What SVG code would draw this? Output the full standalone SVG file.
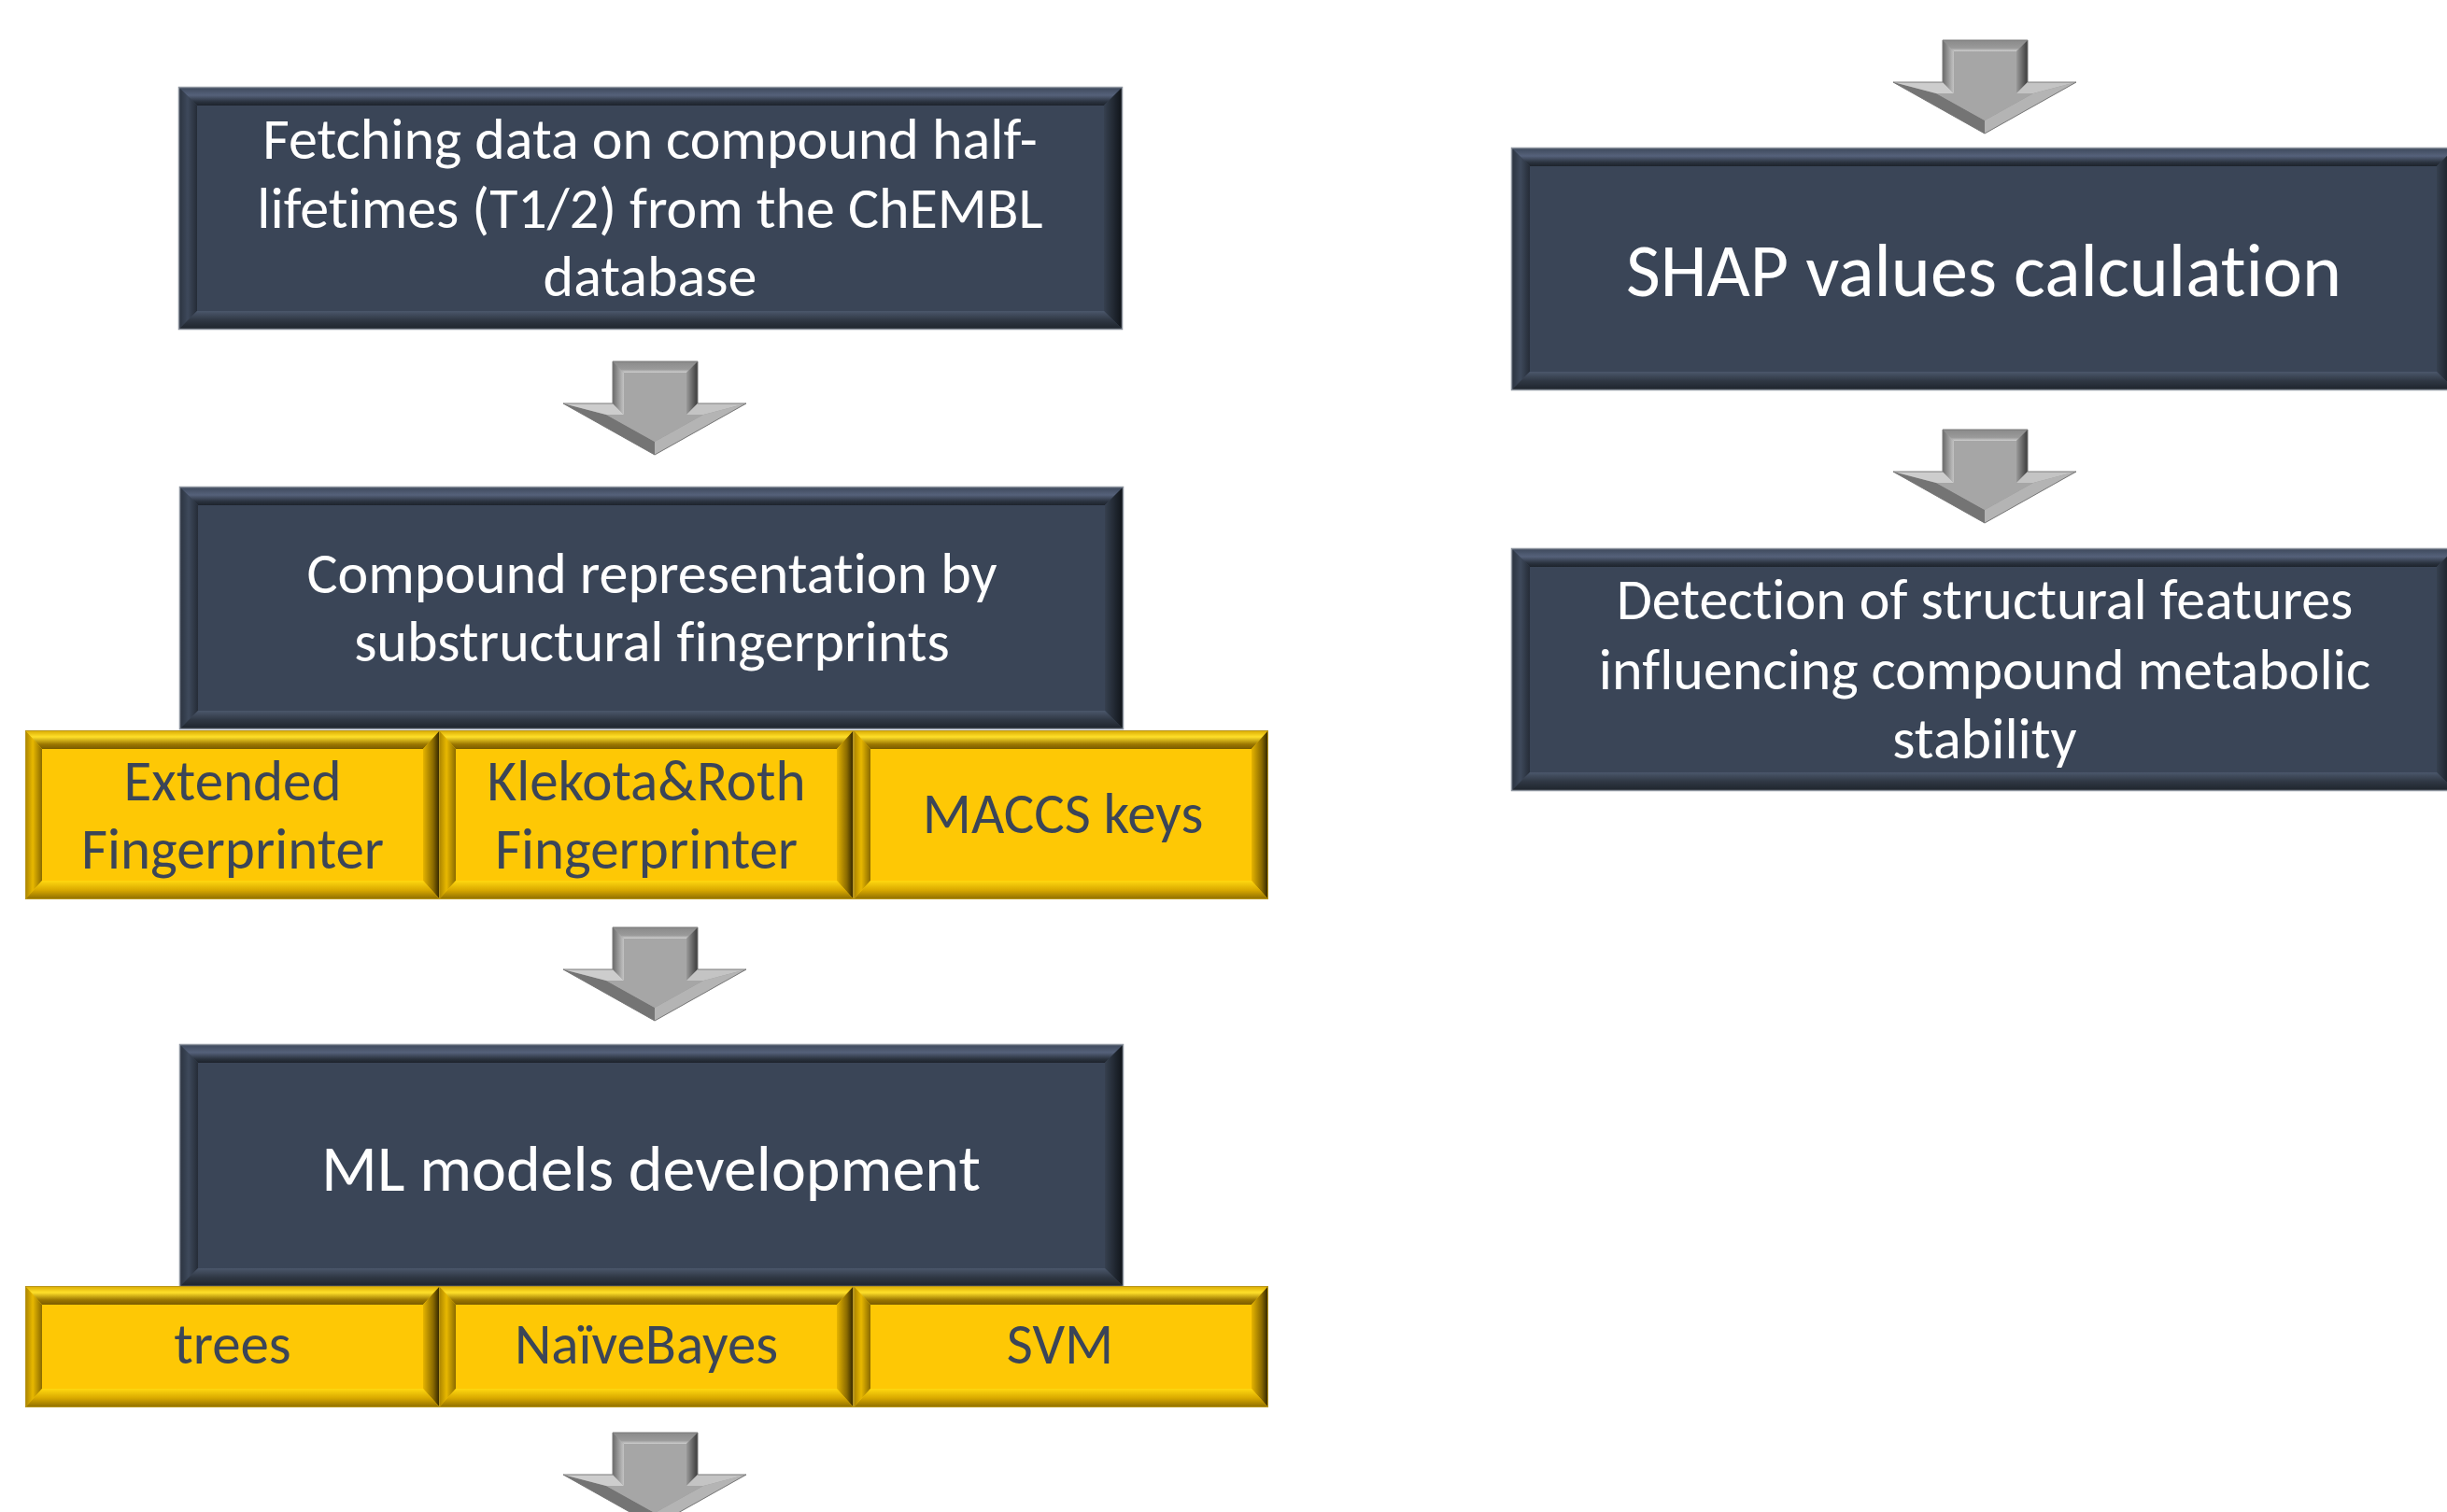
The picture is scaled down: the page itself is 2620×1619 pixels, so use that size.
<svg xmlns="http://www.w3.org/2000/svg" xmlns:xlink="http://www.w3.org/1999/xlink" width="2620" height="1619" viewBox="0 0 2620 1619">
<style>
.wt{fill:#ffffff;font-family:Carlito,Calibri,Lato,"Open Sans",sans-serif;text-anchor:middle;font-size:62px;font-variant-ligatures:none}
.yt{fill:#3b4558;font-family:Carlito,Calibri,Lato,"Open Sans",sans-serif;text-anchor:middle;font-size:61px;font-variant-ligatures:none}
.big{font-size:70px}
.huge{font-size:80px}
</style>
<defs>
<linearGradient id="dTop" x1="0" y1="0" x2="0" y2="1"><stop offset="0" stop-color="#3c4759"/><stop offset="0.45" stop-color="#55617a"/><stop offset="0.8" stop-color="#2a323e"/><stop offset="1" stop-color="#1d232c"/></linearGradient>
<linearGradient id="dLeft" x1="0" y1="0" x2="1" y2="0"><stop offset="0" stop-color="#2a323e"/><stop offset="0.5" stop-color="#3e495b"/><stop offset="1" stop-color="#252c37"/></linearGradient>
<linearGradient id="dRight" x1="0" y1="0" x2="1" y2="0"><stop offset="0" stop-color="#36404f"/><stop offset="1" stop-color="#0e1217"/></linearGradient>
<linearGradient id="dBot" x1="0" y1="0" x2="0" y2="1"><stop offset="0" stop-color="#4b576b"/><stop offset="0.5" stop-color="#2f3743"/><stop offset="1" stop-color="#1d232b"/></linearGradient>
<linearGradient id="yTop" x1="0" y1="0" x2="0" y2="1"><stop offset="0" stop-color="#d8a800"/><stop offset="0.35" stop-color="#ffe02a"/><stop offset="0.75" stop-color="#9a7600"/><stop offset="1" stop-color="#7a5c00"/></linearGradient>
<linearGradient id="yLeft" x1="0" y1="0" x2="1" y2="0"><stop offset="0" stop-color="#a88200"/><stop offset="0.45" stop-color="#e8b800"/><stop offset="1" stop-color="#8a6a00"/></linearGradient>
<linearGradient id="yRight" x1="0" y1="0" x2="1" y2="0"><stop offset="0" stop-color="#e6b400"/><stop offset="0.6" stop-color="#8a6a00"/><stop offset="1" stop-color="#2a2000"/></linearGradient>
<linearGradient id="yBot" x1="0" y1="0" x2="0" y2="1"><stop offset="0" stop-color="#ffd810"/><stop offset="0.5" stop-color="#d9a900"/><stop offset="1" stop-color="#8c6c00"/></linearGradient>
<g id="darkBox">
<rect x="0" y="0" width="1011" height="260" fill="#3a4557"/>
<polygon points="0,0 1011,0 991,20 20,20" fill="url(#dTop)"/>
<polygon points="0,0 20,20 20,240 0,260" fill="url(#dLeft)"/>
<polygon points="1011,0 1011,260 991,240 991,20" fill="url(#dRight)"/>
<polygon points="0,260 20,240 991,240 1011,260" fill="url(#dBot)"/>
<rect x="0.5" y="0.5" width="1010" height="259" fill="none" stroke="#8d949e" stroke-width="1.5"/>
</g>
<g id="yCellTall">
<rect x="0" y="0" width="444" height="181" fill="#fec805"/>
<polygon points="0,0 444,0 426,20 18,20" fill="url(#yTop)"/>
<polygon points="0,0 18,20 18,161 0,181" fill="url(#yLeft)"/>
<polygon points="444,0 444,181 426,161 426,20" fill="url(#yRight)"/>
<polygon points="0,181 18,161 426,161 444,181" fill="url(#yBot)"/>
<rect x="0.5" y="0.5" width="443" height="180" fill="none" stroke="#b8961e" stroke-width="1"/>
</g>
<g id="yCellShort">
<rect x="0" y="0" width="444" height="130" fill="#fec805"/>
<polygon points="0,0 444,0 426,20 18,20" fill="url(#yTop)"/>
<polygon points="0,0 18,20 18,110 0,130" fill="url(#yLeft)"/>
<polygon points="444,0 444,130 426,110 426,20" fill="url(#yRight)"/>
<polygon points="0,130 18,110 426,110 444,130" fill="url(#yBot)"/>
<rect x="0.5" y="0.5" width="443" height="129" fill="none" stroke="#b8961e" stroke-width="1"/>
</g>
<linearGradient id="aLeft" x1="0" y1="0" x2="1" y2="0"><stop offset="0" stop-color="#6a6a6a"/><stop offset="1" stop-color="#c4c4c4"/></linearGradient>
<linearGradient id="aRight" x1="0" y1="0" x2="1" y2="0"><stop offset="0" stop-color="#9a9a9a"/><stop offset="1" stop-color="#3a3a3a"/></linearGradient>
<linearGradient id="aTop" x1="0" y1="0" x2="0" y2="1"><stop offset="0" stop-color="#8a8a8a"/><stop offset="0.7" stop-color="#9a9a9a"/><stop offset="1" stop-color="#cfcfcf"/></linearGradient>
<g id="arrow">
<polygon points="-45,0 46,0 46,45 98,45 0,100 -98,45 -45,45" fill="#9a9a9a"/>
<polygon points="-45,0 46,0 34,12 -33,12" fill="url(#aTop)"/>
<polygon points="46,0 46,45 34,57 34,12" fill="url(#aRight)"/>
<polygon points="46,45 98,45 52,57 34,57" fill="#c4c4c4"/>
<polygon points="98,45 0,100 0,86 52,57" fill="#b4b4b4"/>
<polygon points="0,100 -98,45 -52,57 0,86" fill="#747474"/>
<polygon points="-98,45 -45,45 -33,57 -52,57" fill="#cdcdcd"/>
<polygon points="-45,45 -45,0 -33,12 -33,57" fill="url(#aLeft)"/>
<polygon points="-33,12 34,12 34,57 52,57 0,86 -52,57 -33,57" fill="#a6a6a6"/>
<polygon points="-45,0 46,0 46,45 98,45 0,100 -98,45 -45,45" fill="none" stroke="#7a7a7a" stroke-width="1"/>
</g>
</defs>
<rect x="0" y="0" width="2620" height="1619" fill="#ffffff"/>

<g id="connectors">
<use xlink:href="#arrow" href="#arrow" x="701" y="387"/>
<use xlink:href="#arrow" href="#arrow" x="701" y="993"/>
<use xlink:href="#arrow" href="#arrow" x="701" y="1534"/>
<use xlink:href="#arrow" href="#arrow" x="2125" y="43"/>
<use xlink:href="#arrow" href="#arrow" x="2125" y="460"/>
</g>

<g id="node-fetch">
<use xlink:href="#darkBox" href="#darkBox" x="191" y="93"/>
<text class="wt" x="696" y="170">Fetching data on compound half-</text>
<text class="wt" x="696" y="244">lifetimes (T1/2) from the ChEMBL</text>
<text class="wt" x="696" y="317">database</text>
</g>

<g id="node-representation">
<use xlink:href="#darkBox" href="#darkBox" x="192" y="521"/>
<text class="wt" x="698" y="635">Compound representation by</text>
<text class="wt" x="698" y="708">substructural fingerprints</text>
</g>

<g id="node-extended">
<use xlink:href="#yCellTall" href="#yCellTall" x="27" y="782"/>
<text class="yt" x="249" y="857">Extended</text>
<text class="yt" x="249" y="930">Fingerprinter</text>
</g>
<g id="node-klekota">
<use xlink:href="#yCellTall" href="#yCellTall" x="470" y="782"/>
<text class="yt" x="692" y="857">Klekota&amp;Roth</text>
<text class="yt" x="692" y="930">Fingerprinter</text>
</g>
<g id="node-maccs">
<use xlink:href="#yCellTall" href="#yCellTall" x="914" y="782"/>
<text class="yt" x="1138" y="892">MACCS keys</text>
</g>

<g id="node-ml">
<use xlink:href="#darkBox" href="#darkBox" x="192" y="1118"/>
<text class="wt big" x="697" y="1275">ML models development</text>
</g>

<g id="node-trees">
<use xlink:href="#yCellShort" href="#yCellShort" x="27" y="1377"/>
<text class="yt" x="249" y="1460">trees</text>
</g>
<g id="node-naivebayes">
<use xlink:href="#yCellShort" href="#yCellShort" x="470" y="1377"/>
<text class="yt" x="692" y="1460">NaïveBayes</text>
</g>
<g id="node-svm">
<use xlink:href="#yCellShort" href="#yCellShort" x="914" y="1377"/>
<text class="yt" x="1135" y="1460">SVM</text>
</g>

<g id="node-shap">
<use xlink:href="#darkBox" href="#darkBox" x="1618" y="158"/>
<text class="wt huge" x="2124" y="317">SHAP values calculation</text>
</g>

<g id="node-detection">
<use xlink:href="#darkBox" href="#darkBox" x="1618" y="587"/>
<text class="wt" x="2125" y="663">Detection of structural features</text>
<text class="wt" x="2125" y="738">influencing compound metabolic</text>
<text class="wt" x="2125" y="812">stability</text>
</g>
</svg>
